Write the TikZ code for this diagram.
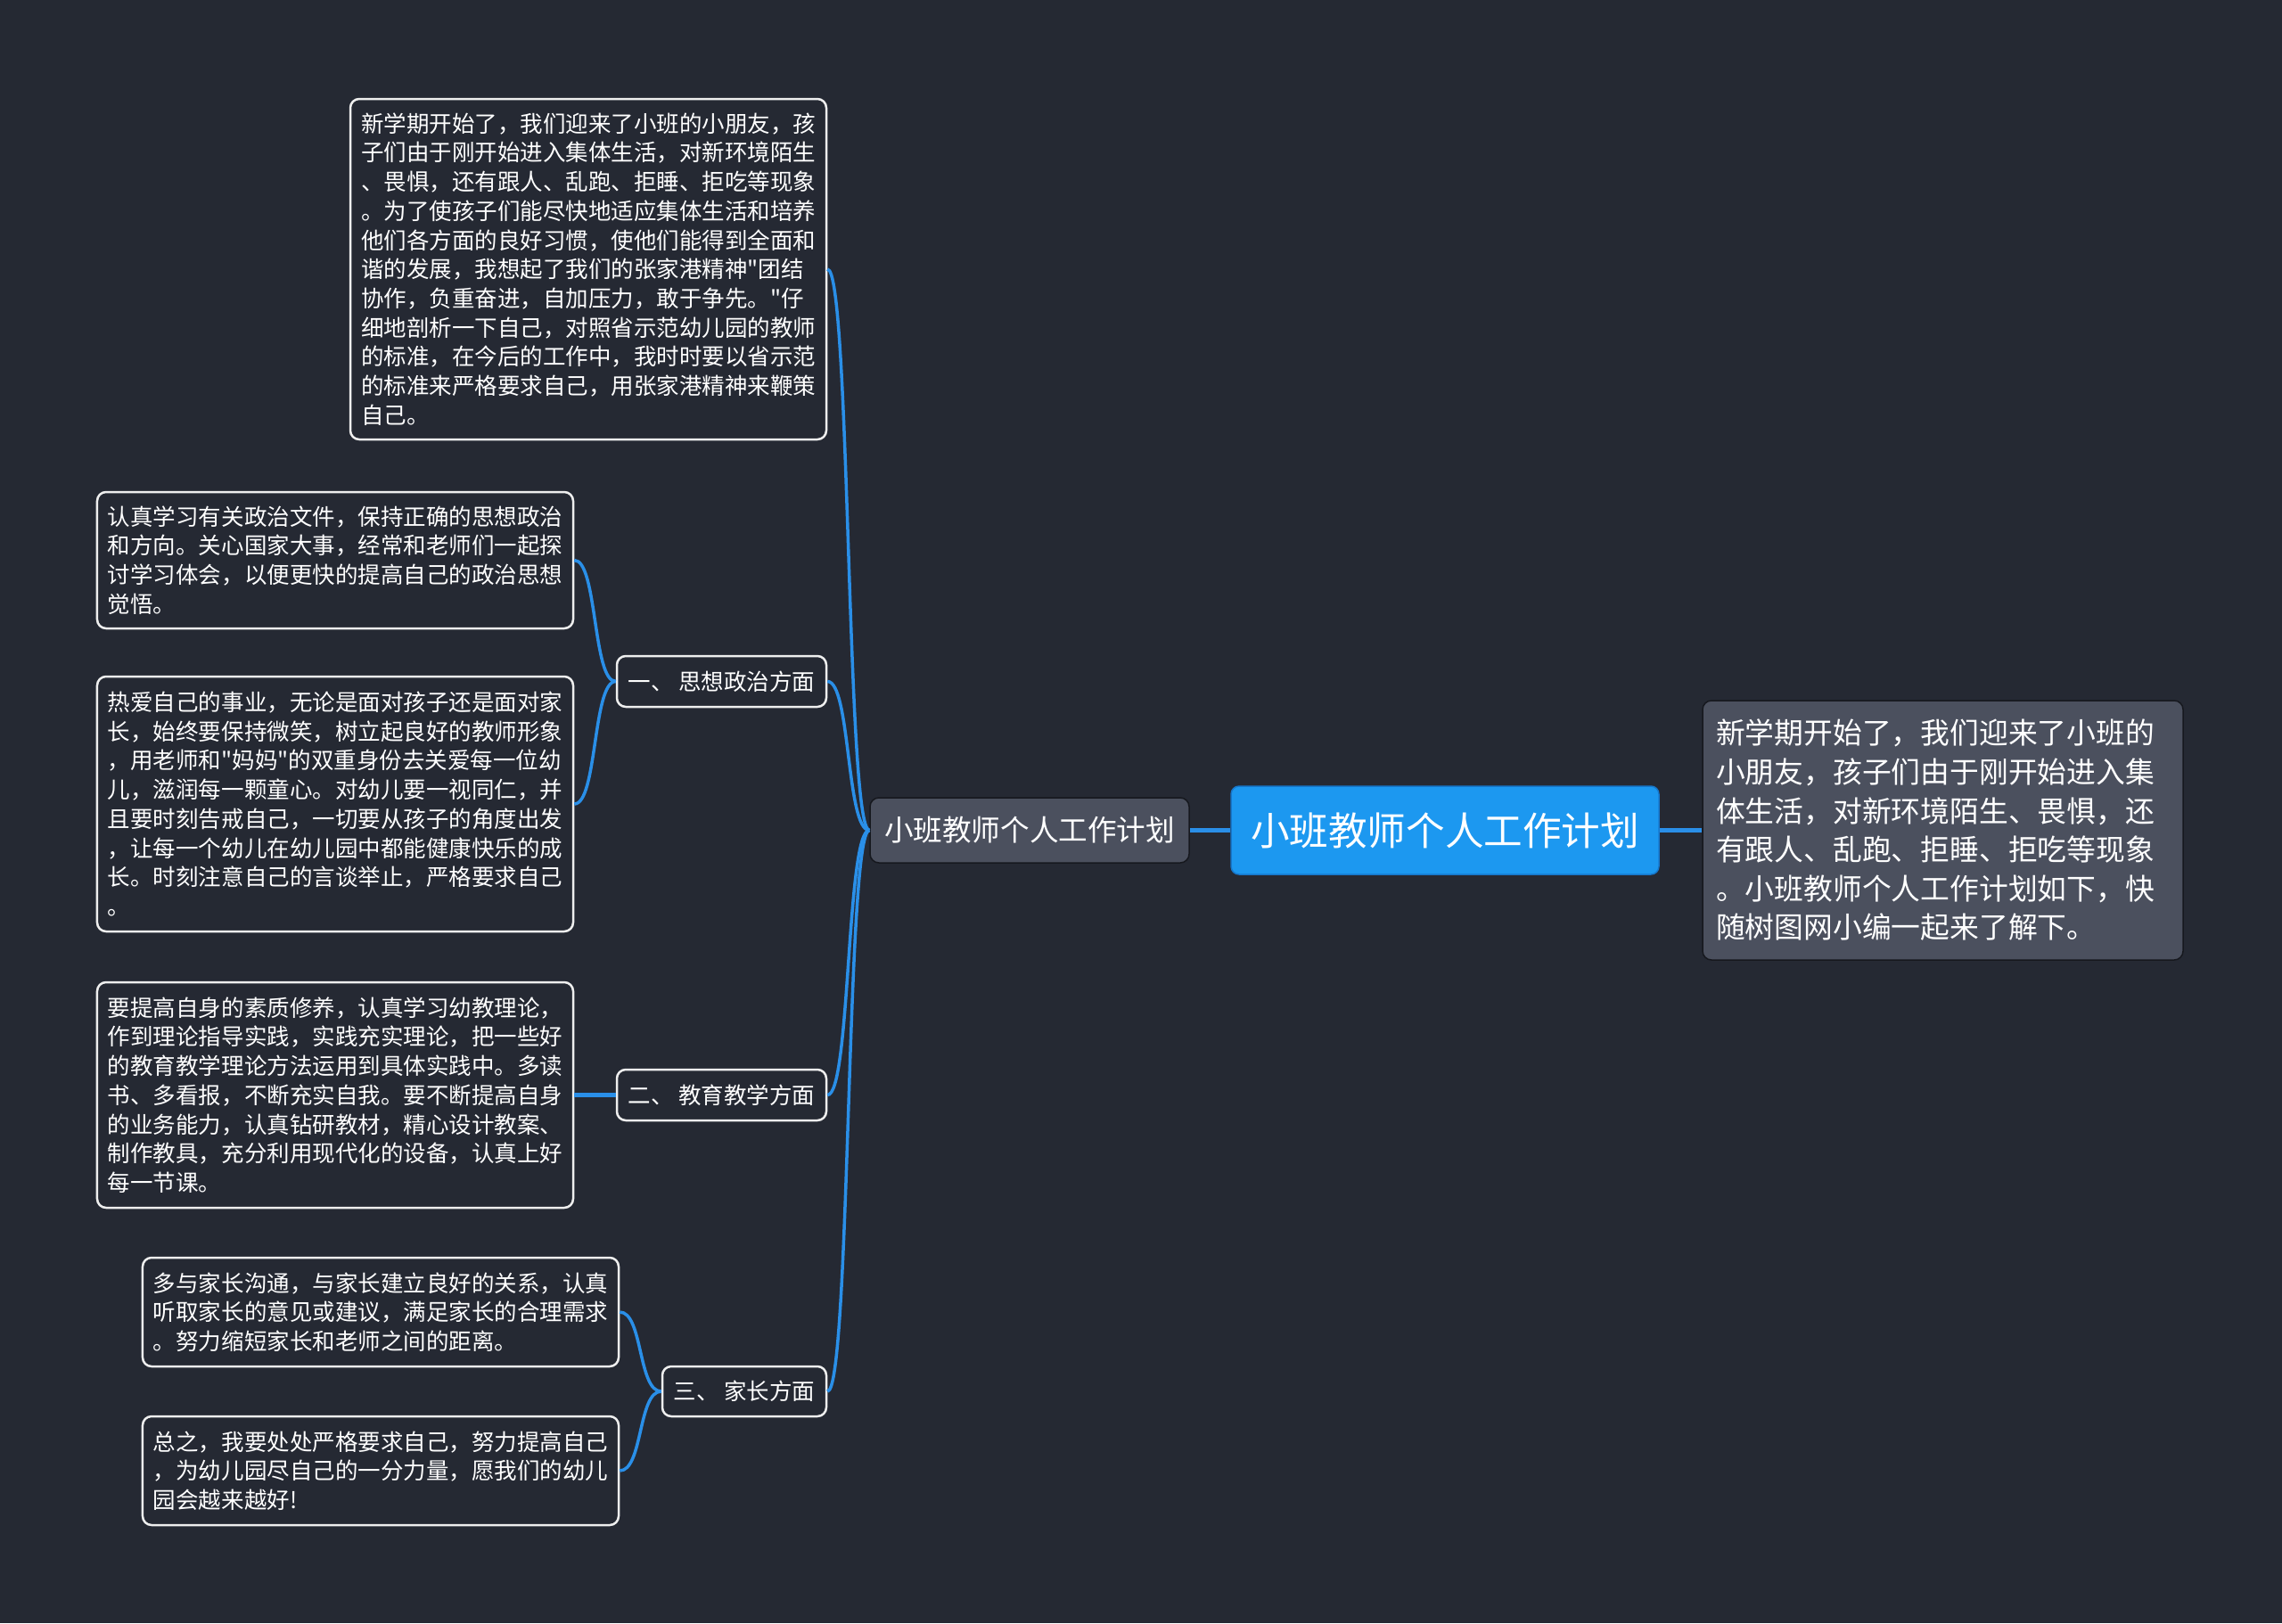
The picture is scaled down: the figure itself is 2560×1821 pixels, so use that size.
\documentclass[tikz,border=0pt]{standalone}
\usepackage{fontspec}
\newfontfamily\cjk{Noto Sans CJK SC}
\definecolor{bg}{HTML}{252933}
\definecolor{linkblue}{HTML}{2A8FE8}
\definecolor{centerblue}{HTML}{1C98F0}
\definecolor{centerborder}{HTML}{1677CC}
\definecolor{graybox}{HTML}{4B505E}
\definecolor{grayborder}{HTML}{16181E}
\definecolor{leafborder}{HTML}{EEEEEE}
\tikzset{
  leaf/.style={draw=leafborder, line width=2.5bp, rounded corners=10bp, fill=bg,
    text=white, font=\cjk\fontsize{25.5bp}{32.7bp}\selectfont, align=left,
    inner xsep=12bp, inner ysep=0bp, text width=510bp, minimum width=534bp},
  catbox/.style={draw=leafborder, line width=2.5bp, rounded corners=10bp, fill=bg,
    text=white, font=\cjk\fontsize{25.5bp}{32.7bp}\selectfont,
    inner xsep=10bp, inner ysep=0bp},
  midbox/.style={draw=grayborder, line width=1.5bp, rounded corners=10bp, fill=graybox,
    text=white, font=\cjk\fontsize{32.6bp}{40bp}\selectfont,
    inner xsep=14bp, inner ysep=0bp},
  rootbox/.style={draw=centerborder, line width=1.5bp, rounded corners=9bp, fill=centerblue,
    text=white, font=\cjk\fontsize{43.6bp}{50bp}\selectfont,
    inner xsep=20bp, inner ysep=0bp},
  introbox/.style={draw=grayborder, line width=1.5bp, rounded corners=10bp, fill=graybox,
    text=white, font=\cjk\fontsize{32.8bp}{43.6bp}\selectfont, align=left,
    inner xsep=15bp, inner ysep=0bp, text width=509bp, minimum width=539bp},
  link/.style={draw=linkblue, line width=3.5bp},
  straightlink/.style={draw=linkblue, line width=4.5bp}
}
\begin{document}
\begin{tikzpicture}[x=1bp,y=-1bp]
\fill[bg] (0,0) rectangle (2560,1821);
\useasboundingbox (0,0) rectangle (2560,1821);

% root and intro
\node[rootbox, minimum width=480bp, minimum height=99bp] (root) at (1621,931.5) {小班教师个人工作计划};
\node[introbox, minimum height=291bp] (intro) at (2179.5,931.5) {新学期开始了，我们迎来了小班的\\小朋友，孩子们由于刚开始进入集\\体生活，对新环境陌生、畏惧，还\\有跟人、乱跑、拒睡、拒吃等现象\\。小班教师个人工作计划如下，快\\随树图网小编一起来了解下。};
\node[midbox, minimum width=358bp, minimum height=73bp] (mid) at (1155,931.5) {小班教师个人工作计划};

% first level
\node[leaf, minimum height=382bp] (top) at (660,302) {新学期开始了，我们迎来了小班的小朋友，孩\\子们由于刚开始进入集体生活，对新环境陌生\\、畏惧，还有跟人、乱跑、拒睡、拒吃等现象\\。为了使孩子们能尽快地适应集体生活和培养\\他们各方面的良好习惯，使他们能得到全面和\\谐的发展，我想起了我们的张家港精神"团结\\协作，负重奋进，自加压力，敢于争先。"仔\\细地剖析一下自己，对照省示范幼儿园的教师\\的标准，在今后的工作中，我时时要以省示范\\的标准来严格要求自己，用张家港精神来鞭策\\自己。};
\node[catbox, minimum width=235bp, minimum height=57bp] (cat1) at (809.5,764.5) {一、 思想政治方面};
\node[catbox, minimum width=235bp, minimum height=57bp] (cat2) at (809.5,1228.5) {二、 教育教学方面};
\node[catbox, minimum width=184bp, minimum height=56bp] (cat3) at (835,1561) {三、 家长方面};

% leaves
\node[leaf, minimum height=153bp] (l1) at (376,628.5) {认真学习有关政治文件，保持正确的思想政治\\和方向。关心国家大事，经常和老师们一起探\\讨学习体会，以便更快的提高自己的政治思想\\觉悟。};
\node[leaf, minimum height=286bp] (l2) at (376,902) {热爱自己的事业，无论是面对孩子还是面对家\\长，始终要保持微笑，树立起良好的教师形象\\，用老师和"妈妈"的双重身份去关爱每一位幼\\儿，滋润每一颗童心。对幼儿要一视同仁，并\\且要时刻告戒自己，一切要从孩子的角度出发\\，让每一个幼儿在幼儿园中都能健康快乐的成\\长。时刻注意自己的言谈举止，严格要求自己\\。};
\node[leaf, minimum height=253bp] (l3) at (376,1228.5) {要提高自身的素质修养，认真学习幼教理论，\\作到理论指导实践，实践充实理论，把一些好\\的教育教学理论方法运用到具体实践中。多读\\书、多看报，不断充实自我。要不断提高自身\\的业务能力，认真钻研教材，精心设计教案、\\制作教具，充分利用现代化的设备，认真上好\\每一节课。};
\node[leaf, minimum height=122bp] (l4) at (427,1472) {多与家长沟通，与家长建立良好的关系，认真\\听取家长的意见或建议，满足家长的合理需求\\。努力缩短家长和老师之间的距离。};
\node[leaf, minimum height=122bp] (l5) at (427,1650) {总之，我要处处严格要求自己，努力提高自己\\，为幼儿园尽自己的一分力量，愿我们的幼儿\\园会越来越好!};

% connectors
\draw[straightlink] (root.east) -- (intro.west);
\draw[straightlink] (root.west) -- (mid.east);
\foreach \c in {top,cat1,cat2,cat3}{
  \draw[link] (mid.west) .. controls +(-26,0) and +(26,0) .. (\c.east);
}
\foreach \c in {l1,l2}{
  \draw[link] (cat1.west) .. controls +(-26,0) and +(26,0) .. (\c.east);
}
\draw[straightlink] (cat2.west) -- (l3.east);
\foreach \c in {l4,l5}{
  \draw[link] (cat3.west) .. controls +(-26,0) and +(26,0) .. (\c.east);
}
\end{tikzpicture}
\end{document}
